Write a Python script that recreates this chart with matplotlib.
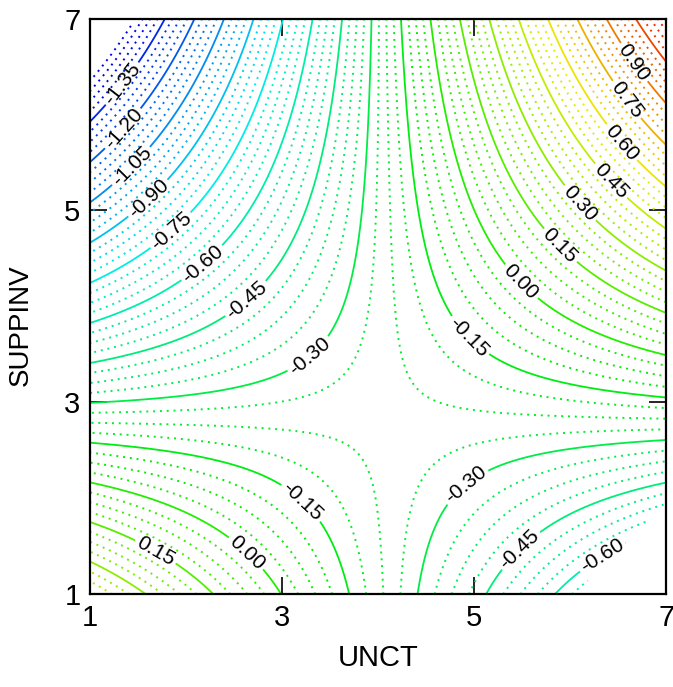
import numpy as np
import matplotlib
matplotlib.use("Agg")
import matplotlib.pyplot as plt
import matplotlib.colors as mcolors

# contour crossings
left_y = [1.30, 1.71, 2.11, 2.52, 2.94]            # at UNCT = 1
left_z = [0.30, 0.15, 0.00, -0.15, -0.30]
top_x = [2.17, 2.46, 2.75, 3.03, 3.34, 3.64, 3.95, 4.25, 4.54,
         4.83, 5.14, 5.43, 5.72, 6.02, 6.31, 6.60, 6.91]   # at SUPPINV = 7
top_z = [-1.20, -1.05, -0.90, -0.75, -0.60, -0.45, -0.30, -0.15, 0.00,
         0.15, 0.30, 0.45, 0.60, 0.75, 0.90, 1.05, 1.20]
bottom_x = [1.55, 2.28, 3.00, 3.71]                 # at SUPPINV = 1
bottom_z = [0.30, 0.15, 0.00, -0.15]
right_y = [2.10, 2.52, 2.99]                        # at UNCT = 7
right_z = [-0.45, -0.30, -0.15]

# contour labels (position and value), also points on the surface
label_x = [1.31, 1.29, 1.36, 1.60, 1.85, 2.15, 2.56, 3.19, 4.96, 5.48, 5.90,
           6.16, 6.49, 6.63, 6.66, 6.70, 1.73, 2.72, 3.27, 4.91, 5.43, 6.26]
label_y = [6.34, 5.90, 5.53, 5.13, 4.78, 4.47, 4.15, 3.60, 3.70, 4.25, 4.64,
           5.13, 5.37, 5.79, 6.21, 6.57, 1.53, 1.53, 2.03, 2.14, 1.51, 1.51]
label_z = [-1.35, -1.20, -1.05, -0.90, -0.75, -0.60, -0.45, -0.30, -0.15, 0.00, 0.15,
           0.30, 0.45, 0.60, 0.75, 0.90, 0.15, 0.00, -0.15, -0.30, -0.45, -0.60]

# saddle point
saddle = (4.05, 2.80, -0.235)

major_levels = [-1.35, -1.20, -1.05, -0.90, -0.75, -0.60, -0.45, -0.30, -0.15,
                0.00, 0.15, 0.30, 0.45, 0.60, 0.75, 0.90, 1.05, 1.20]
minor_step = 0.0375
level_min = -1.5
level_max = 1.275
color_min, color_max = -1.45, 1.25
ticks = [1, 3, 5, 7]

# collect points and fit a quadratic response surface
px = np.concatenate([np.ones(len(left_y)), top_x, bottom_x, 7 * np.ones(len(right_y)),
                     label_x, [saddle[0]]])
py = np.concatenate([left_y, 7 * np.ones(len(top_x)), np.ones(len(bottom_x)), right_y,
                     label_y, [saddle[1]]])
pz = np.concatenate([left_z, top_z, bottom_z, right_z, label_z, [saddle[2]]])
A = np.column_stack([np.ones_like(px), px, py, px * py, px ** 2, py ** 2])
coef = np.linalg.lstsq(A, pz, rcond=None)[0]

x = np.linspace(1, 7, 301)
y = np.linspace(1, 7, 301)
X, Y = np.meshgrid(x, y)
Z = (coef[0] + coef[1] * X + coef[2] * Y + coef[3] * X * Y
     + coef[4] * X ** 2 + coef[5] * Y ** 2)
# no surface in the two empty corners (top left, bottom right)
Z = np.ma.masked_where((Y - X > 5.5) | (X - Y > 5.05), Z)

all_levels = np.round(np.arange(level_min, level_max + 1e-9, minor_step), 4)
minor_levels = [l for l in all_levels if min(abs(l - m) for m in major_levels) > 1e-6]


def level_color(v):
    t = np.clip((v - color_min) / (color_max - color_min), 0, 1)
    h = (240.0 / 360.0) * (1 - t)
    return mcolors.hsv_to_rgb((h, 1.0, 0.93))


plt.rcParams['font.family'] = ['Liberation Sans', 'DejaVu Sans']

fig = plt.figure(figsize=(6.73, 6.87), dpi=100)
ax = fig.add_axes([0.134, 0.135, 0.856, 0.838])

ax.contour(X, Y, Z, levels=minor_levels,
           colors=[level_color(v) for v in minor_levels],
           linewidths=1.4, linestyles=[(0, (1.0, 2.5))])
cs = ax.contour(X, Y, Z, levels=major_levels,
                colors=[level_color(v) for v in major_levels],
                linewidths=1.3, linestyles='solid')
ax.clabel(cs, fmt='%.2f', fontsize=15, colors='black', inline=True,
          inline_spacing=3, manual=list(zip(label_x, label_y)))

ax.set_xlim(1, 7)
ax.set_ylim(1, 7)
ax.set_xticks(ticks)
ax.set_yticks(ticks)
ax.tick_params(direction='in', length=12, width=1.2, labelsize=21,
               top=True, right=True, pad=7)
for s in ax.spines.values():
    s.set_linewidth(1.6)

ax.set_xlabel('UNCT', fontsize=21, labelpad=9)
ax.set_ylabel('SUPPINV', fontsize=20)
ax.yaxis.set_label_coords(-0.098, 0.468)

fig.savefig('out.png', dpi=100)
